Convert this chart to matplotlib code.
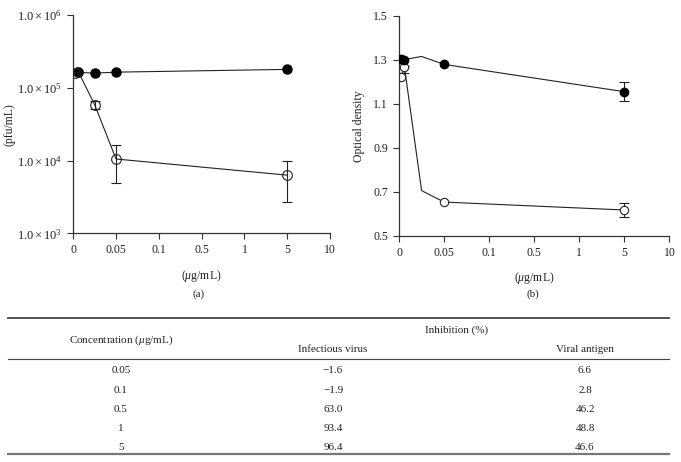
import numpy as np
from matplotlib import pyplot as plt
from matplotlib.lines import Line2D

# x axis: equally spaced, non-linear concentration ticks
tick_vals = [0, 0.05, 0.1, 0.5, 1, 5, 10]
tick_labels = ['0', '0.05', '0.1', '0.5', '1', '5', '10']

# panel (a): virus titre (pfu/mL)
a_filled_x = [0.005, 0.025, 0.05, 5]
a_filled_y = [1.63e5, 1.59e5, 1.64e5, 1.79e5]
a_open_x = [0.002, 0.006, 0.025, 0.05, 5]
a_open_y = [1.60e5, 1.65e5, 5.85e4, 1.05e4, 6.3e3]
# error bars (only where drawn)
a_err_x = [0.025, 0.05, 5]
a_err_y = [5.85e4, 1.05e4, 6.3e3]
a_err_lo = [5.15e4, 4.9e3, 2.7e3]
a_err_hi = [6.6e4, 1.63e4, 1.0e4]

# panel (b): optical density
b_filled_x = [0.002, 0.005, 0.025, 0.05, 5]
b_filled_y = [1.305, 1.300, 1.315, 1.279, 1.155]
b_open_x = [0.002, 0.006, 0.025, 0.05, 5]
b_open_y = [1.223, 1.266, 0.706, 0.654, 0.618]
b_err_x = [5, 0.006, 5]
b_err_y = [1.155, 1.266, 0.618]
b_err_lo = [1.114, 1.240, 0.586]
b_err_hi = [1.199, 1.272, 0.648]

# table
tbl_conc = ['0.05', '0.1', '0.5', '1', '5']
tbl_virus = [-1.6, -1.9, 63.0, 93.4, 96.4]
tbl_antigen = [6.6, 2.8, 46.2, 48.8, 46.6]

plt.rcParams['font.family'] = 'Liberation Serif'
plt.rcParams['mathtext.fontset'] = 'custom'
plt.rcParams['mathtext.rm'] = 'Liberation Serif'
plt.rcParams['mathtext.it'] = 'Liberation Serif:italic'
plt.rcParams['font.size'] = 8
tc = '#222222'
lc = '#222222'


def fwd(x):
    return np.interp(x, tick_vals, np.arange(len(tick_vals)))


def inv(p):
    return np.interp(p, np.arange(len(tick_vals)), tick_vals)


def style(ax):
    ax.set_xscale('function', functions=(fwd, inv))
    ax.set_xlim(0, 10)
    ax.set_xticks(tick_vals)
    ax.set_xticklabels(tick_labels)
    for s in ['top', 'right']:
        ax.spines[s].set_visible(False)
    for s in ['left', 'bottom']:
        ax.spines[s].set_color('#333333')
        ax.spines[s].set_linewidth(0.9)
    ax.tick_params(direction='out', length=4.5, width=0.8, colors='#333333',
                   labelcolor=tc, labelsize=8.5)
    ax.set_xlabel(r'($\mu$g/mL)', color=tc, fontsize=8.5, labelpad=8)


def errbars(ax, x, y, lo, hi):
    y = np.array(y)
    ax.errorbar(x, y, yerr=[y - np.array(lo), np.array(hi) - y], fmt='none',
                ecolor=lc, elinewidth=0.8, capsize=3.5, capthick=0.8, zorder=1)


fig = plt.figure(figsize=(6.81, 4.62), dpi=100)

ax1 = fig.add_axes([0.1076, 0.495, 0.377, 0.4725])
style(ax1)
ax1.set_yscale('log')
ax1.set_ylim(1e3, 1e6)
ax1.set_yticks([1e3, 1e4, 1e5, 1e6])
ax1.set_yticklabels([r'$1.0 \times 10^{%d}$' % e for e in [3, 4, 5, 6]])
ax1.minorticks_off()
ax1.tick_params(axis='y', labelsize=9)
errbars(ax1, a_err_x, a_err_y, a_err_lo, a_err_hi)
ax1.plot(a_filled_x, a_filled_y, color=lc, lw=0.8, marker='o', ms=6.5,
         mfc='black', mec='black', zorder=2)
ax1.plot(a_open_x, a_open_y, color=lc, lw=0.8, marker='o', ms=7, mfc='none',
         mec=lc, mew=0.8, zorder=3)
ax1.set_ylabel('(pfu/mL)', color=tc, fontsize=8.5)
ax1.yaxis.set_label_coords(-0.225, 0.5)

ax2 = fig.add_axes([0.586, 0.4892, 0.397, 0.4768])
style(ax2)
ax2.set_ylim(0.5, 1.5)
ax2.set_yticks([0.5, 0.7, 0.9, 1.1, 1.3, 1.5])
ax2.set_yticklabels(['0.5', '0.7', '0.9', '1.1', '1.3', '1.5'])
errbars(ax2, b_err_x, b_err_y, b_err_lo, b_err_hi)
ax2.plot(b_open_x, b_open_y, color=lc, lw=0.8, marker='o', ms=6, mfc='white',
         mec=lc, mew=0.8, markevery=[0, 1, 3, 4], zorder=2)
ax2.plot(b_filled_x, b_filled_y, color=lc, lw=0.8, marker='o', ms=6,
         mfc='black', mec='black', markevery=[0, 1, 3, 4], zorder=3)
ax2.set_ylabel('Optical density', color=tc, fontsize=8.5)
ax2.yaxis.set_label_coords(-0.126, 0.5)

fig.text(199 / 681, 1 - 294 / 462, '(a)', ha='center', va='center', color=tc, fontsize=8)
fig.text(533 / 681, 1 - 294 / 462, '(b)', ha='center', va='center', color=tc, fontsize=8)

# table drawn in figure pixel coordinates
W, H = 681, 462


def hline(y, lw, c):
    fig.add_artist(Line2D([8 / W, 669 / W], [1 - y / H, 1 - y / H], lw=lw, color=c,
                          transform=fig.transFigure))


def txt(x, y, s):
    fig.text(x / W, 1 - y / H, s, ha='center', va='center', color=tc, fontsize=8)


hline(317.5, 1.3, '#444444')
hline(358.5, 0.8, '#444444')
hline(454, 1.6, '#777777')

txt(121, 340.5, r'Concentration ($\mu$g/mL)')
txt(457, 330, 'Inhibition (%)')
txt(333, 350, 'Infectious virus')
txt(585, 350, 'Viral antigen')
row_y = [370.5, 390.5, 409.5, 428.5, 447]
for y, c, v, g in zip(row_y, tbl_conc, tbl_virus, tbl_antigen):
    txt(121, y, c)
    txt(333, y, ('%.1f' % v).replace('-', '\u2212'))
    txt(585, y, '%.1f' % g)

fig.savefig('out.png', dpi=100)
